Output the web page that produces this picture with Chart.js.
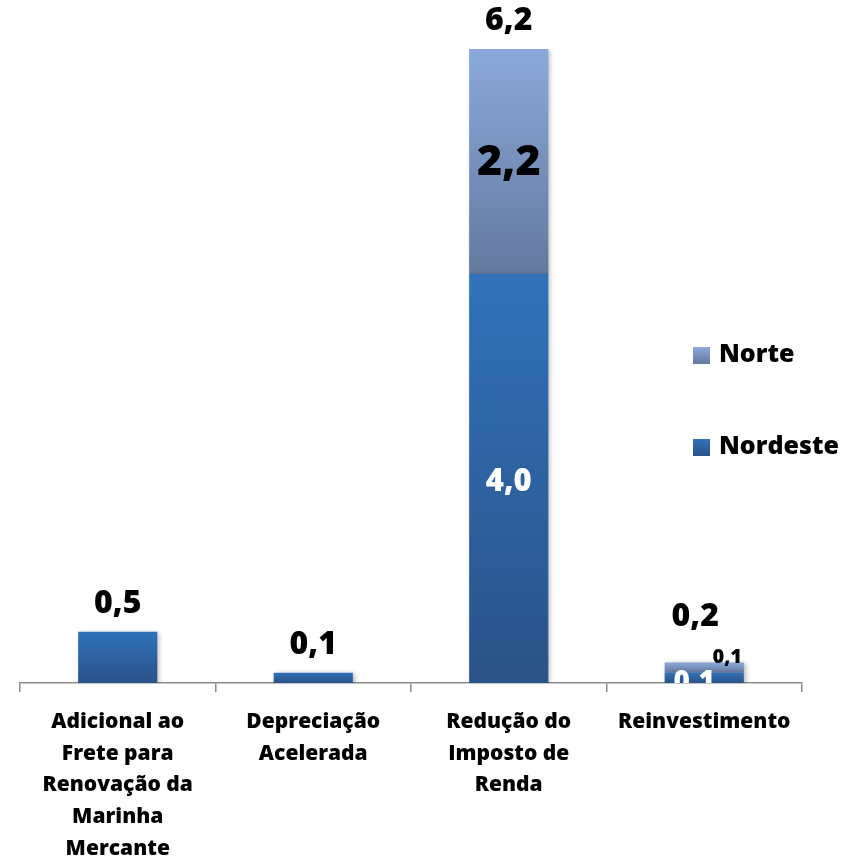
<!DOCTYPE html>
<html>
<head>
<meta charset="utf-8">
<script src="https://cdn.jsdelivr.net/npm/chart.js@4.4.1/dist/chart.umd.min.js"></script>
<style>
  html, body { margin: 0; padding: 0; background: #fff; }
  #wrap { position: relative; width: 848px; height: 859px; }
</style>
</head>
<body>
<div id="wrap"><canvas id="chart"></canvas></div>
<script>
// Chart data
const categories = [
    ['Adicional ao', 'Frete para', 'Renovação da', 'Marinha', 'Mercante'],
    ['Depreciação', 'Acelerada'],
    ['Redução do', 'Imposto de', 'Renda'],
    'Reinvestimento'
];
const nordeste = [0.5, 0.1, 4.0, 0.1];
const norte = [0, 0, 2.2, 0.1];
const yMax = 6.2;

const FONT = '"Open Sans", sans-serif';
const W = '800 ';

function fmt(v) {
    return v.toFixed(1).replace('.', ',');
}

// Colours for the two series (top / bottom of the gradient)
const nordesteColors = ['#3172BA', '#2A5287'];
const norteColors = ['#8AA9DA', '#64799E'];

function barGradient(context) {
    const chart = context.chart;
    const area = chart.chartArea;
    if (!area) return nordesteColors[0];
    const y = chart.scales.y;
    const i = context.dataIndex;
    let base = 0, top = nordeste[i];
    let cols = nordesteColors;
    if (context.datasetIndex === 1) {
        base = nordeste[i];
        top = nordeste[i] + norte[i];
        cols = norteColors;
    }
    const y0 = y.getPixelForValue(top);
    const y1 = y.getPixelForValue(base);
    if (!isFinite(y0) || !isFinite(y1) || y0 === y1) return cols[0];
    const g = chart.ctx.createLinearGradient(0, y0, 0, y1);
    g.addColorStop(0, cols[0]);
    g.addColorStop(1, cols[1]);
    return g;
}

// Soft shadow behind the bars
const shadowPlugin = {
    id: 'barShadow',
    beforeDatasetDraw(chart) {
        const ctx = chart.ctx;
        ctx.save();
        ctx.shadowColor = 'rgba(0,0,0,0.3)';
        ctx.shadowBlur = 5;
        ctx.shadowOffsetX = 2;
        ctx.shadowOffsetY = 1;
    },
    afterDatasetDraw(chart) {
        chart.ctx.restore();
    }
};

// Value labels: totals above, segment values inside
const labelPlugin = {
    id: 'valueLabels',
    afterDatasetsDraw(chart) {
        const ctx = chart.ctx;
        const metaN = chart.getDatasetMeta(0);
        const metaS = chart.getDatasetMeta(1);
        const area = chart.chartArea;
        ctx.save();
        ctx.textAlign = 'center';
        ctx.textBaseline = 'middle';

        categories.forEach((c, i) => {
            const barN = metaN.data[i];
            const barS = metaS.data[i];
            const total = nordeste[i] + norte[i];
            const topY = chart.scales.y.getPixelForValue(total);
            const x = barN.x;
            const split = norte[i] > 0 && nordeste[i] > 0 && nordeste[i] < 1;

            // total above the stack
            ctx.fillStyle = '#000';
            ctx.font = W + '32px ' + FONT;
            ctx.fillText(fmt(total), split ? x - 9 : x, topY - (split ? 46 : 28));

            if (norte[i] > 0 && nordeste[i] > 0) {
                const big = !split;
                const midN = (barN.y + barN.base) / 2;
                const midS = (barS.y + barS.base) / 2;
                // Nordeste segment (clipped to the plot area)
                ctx.save();
                ctx.beginPath();
                ctx.rect(area.left, area.top, area.right - area.left, area.bottom - area.top);
                ctx.clip();
                ctx.fillStyle = '#fff';
                ctx.font = W + (big ? '31px ' : '28px ') + FONT;
                ctx.fillText(fmt(nordeste[i]), big ? x : x - 10, big ? midN + 4 : midN + 4);
                ctx.restore();
                // Norte segment
                ctx.fillStyle = '#000';
                ctx.font = W + (big ? '43px ' : '20px ') + FONT;
                ctx.fillText(fmt(norte[i]), big ? x : x + 23, big ? midS + 1 : midS - 10);
            }
        });
        ctx.restore();
    }
};

// Legend drawn over the right side of the plot
const legendPlugin = {
    id: 'sideLegend',
    afterDraw(chart) {
        const ctx = chart.ctx;
        const items = [
            { text: 'Norte', cols: norteColors, y: 355 },
            { text: 'Nordeste', cols: nordesteColors, y: 447 }
        ];
        ctx.save();
        items.forEach(it => {
            const g = ctx.createLinearGradient(0, it.y - 8, 0, it.y + 9);
            g.addColorStop(0, it.cols[0]);
            g.addColorStop(1, it.cols[1]);
            ctx.fillStyle = g;
            ctx.fillRect(693, it.y - 8, 17, 17);
            ctx.fillStyle = '#000';
            ctx.font = W + '25px ' + FONT;
            ctx.textAlign = 'left';
            ctx.textBaseline = 'middle';
            ctx.fillText(it.text, 719, it.y);
        });
        ctx.restore();
    }
};

const canvas = document.getElementById('chart');
new Chart(canvas.getContext('2d'), {
    type: 'bar',
    data: {
        labels: categories,
        datasets: [{
            label: 'Nordeste',
            data: nordeste,
            backgroundColor: barGradient,
            borderWidth: 0
        }, {
            label: 'Norte',
            data: norte,
            backgroundColor: barGradient,
            borderWidth: 0
        }]
    },
    options: {
        responsive: true,
        maintainAspectRatio: false,
        animation: false,
        events: [],
        layout: {
            padding: { top: 49, left: 20, right: 46, bottom: 0 }
        },
        datasets: {
            bar: { categoryPercentage: 1, barPercentage: 0.405 }
        },
        plugins: {
            legend: { display: false },
            tooltip: { enabled: false }
        },
        scales: {
            x: {
                stacked: true,
                offset: true,
                afterFit(scale) {
                    scale.height = 176;
                },
                grid: {
                    offset: true,
                    drawOnChartArea: false,
                    drawTicks: true,
                    tickLength: 9,
                    color: '#8c8c8c',
                    lineWidth: 1.5
                },
                border: { color: '#8c8c8c', width: 1.5 },
                ticks: {
                    color: '#000',
                    padding: 14,
                    maxRotation: 0,
                    autoSkip: false,
                    font: { family: FONT, size: 21, weight: '800', lineHeight: 1.51 }
                }
            },
            y: {
                stacked: true,
                display: false,
                min: 0,
                max: yMax
            }
        }
    },
    plugins: [shadowPlugin, labelPlugin, legendPlugin]
});
</script>
</body>
</html>
